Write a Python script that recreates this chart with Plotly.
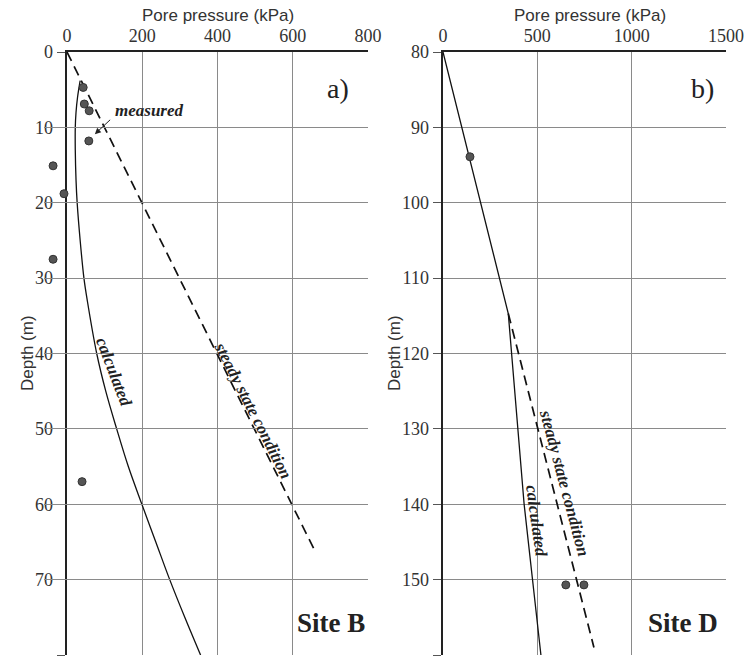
import plotly.graph_objects as go

# ---- Site B (panel a) ----
b_meas_p = [43, 46, 59, 58, -37, -8, -37, 40]
b_meas_d = [4.7, 6.9, 7.8, 11.8, 15.1, 18.8, 27.5, 57]
b_calc_p = [35, 28, 24, 22, 22, 24, 27, 35, 45, 54, 79, 103, 132, 163, 199, 236, 273, 313, 355]
b_calc_d = [3.8, 6, 8, 10, 13, 17, 20, 25, 30, 33, 40, 45, 50, 55, 60, 65, 70, 75, 80]
b_ss_p = [0, 660]
b_ss_d = [0, 66.3]
b_xticks = [0, 200, 400, 600, 800]
b_yticks = [0, 10, 20, 30, 40, 50, 60, 70, 80]

# ---- Site D (panel b) ----
d_meas_p = [143, 651, 747]
d_meas_d = [93.9, 150.7, 150.7]
d_calc_p = [0, 346, 430, 519]
d_calc_d = [80, 114.7, 140, 160]
d_ss_p = [346, 800]
d_ss_d = [114.7, 159]
d_xticks = [0, 500, 1000, 1500]
d_yticks = [80, 90, 100, 110, 120, 130, 140, 150, 160]

W, H = 745, 664
SERIF = "Liberation Serif, Times New Roman, serif"
SANS = "Liberation Sans, Arial, sans-serif"

def px(x):
    return x / W

def py(y):
    return 1 - y / H

fig = go.Figure()

line_solid = dict(color="#111", width=1.3)
line_dash = dict(color="#111", width=1.7, dash="10px,6px")
mk = dict(size=8, color="#555", line=dict(color="#333", width=1))

fig.add_trace(go.Scatter(x=b_calc_p, y=b_calc_d, mode="lines", line=dict(line_solid, shape="spline"),
                         xaxis="x", yaxis="y", showlegend=False, hoverinfo="skip"))
fig.add_trace(go.Scatter(x=b_ss_p, y=b_ss_d, mode="lines", line=line_dash,
                         xaxis="x", yaxis="y", showlegend=False, hoverinfo="skip"))
# measured points on an invisible axis with the same scale, extended to negative pressures
fig.add_trace(go.Scatter(x=b_meas_p, y=b_meas_d, mode="markers", marker=mk, cliponaxis=False,
                         xaxis="x3", yaxis="y", showlegend=False, hoverinfo="skip"))

fig.add_trace(go.Scatter(x=d_calc_p, y=d_calc_d, mode="lines", line=line_solid,
                         xaxis="x2", yaxis="y2", showlegend=False, hoverinfo="skip"))
fig.add_trace(go.Scatter(x=d_ss_p, y=d_ss_d, mode="lines", line=line_dash,
                         xaxis="x2", yaxis="y2", showlegend=False, hoverinfo="skip"))
fig.add_trace(go.Scatter(x=d_meas_p, y=d_meas_d, mode="markers", marker=mk, cliponaxis=False,
                         xaxis="x2", yaxis="y2", showlegend=False, hoverinfo="skip"))

ydom = [py(655), py(52)]

def xax(dom, rng, ticks, anchor):
    return dict(domain=dom, range=rng, side="top", anchor=anchor, tickvals=ticks,
                showgrid=True, gridcolor="#8a8a8a", gridwidth=1.2, zeroline=False,
                showline=True, linecolor="#222", linewidth=2.5, ticks="", automargin=False,
                tickfont=dict(family=SERIF, size=18, color="#333"), fixedrange=True)

def yax(rng, ticks, anchor):
    return dict(domain=ydom, range=rng, anchor=anchor, tickvals=ticks,
                showgrid=True, gridcolor="#8a8a8a", gridwidth=1.2, zeroline=False,
                showline=True, linecolor="#222", linewidth=2.5, ticks="outside", ticklen=8,
                tickcolor="#555", tickwidth=1, automargin=False,
                tickfont=dict(family=SERIF, size=18, color="#333"), fixedrange=True)

s = (368 - 67) / 800.0  # px per kPa in panel a
ext = 60  # kPa of extension to the left for the measured-point axis

fig.update_layout(
    template="none",
    width=W, height=H, margin=dict(l=0, r=0, t=0, b=0, autoexpand=False),
    paper_bgcolor="white", plot_bgcolor="rgba(0,0,0,0)",
    xaxis=xax([px(67), px(368)], [0, 800], b_xticks, "y"),
    yaxis=yax([80, 0], b_yticks, "x"),
    xaxis2=xax([px(443), px(726)], [0, 1500], d_xticks, "y2"),
    yaxis2=yax([160, 80], d_yticks, "x2"),
    xaxis3=dict(domain=[px(67 - ext * s), px(368)], range=[-ext, 800], anchor="y",
                visible=False, showgrid=False, zeroline=False, fixedrange=True),
    hovermode=False,
)

ann = []
for cx in (218, 590):
    ann.append(dict(text="Pore pressure (kPa)", xref="paper", yref="paper", x=px(cx), y=py(16),
                    xanchor="center", yanchor="middle",
                    showarrow=False, font=dict(family=SANS, size=17, color="#333")))
for cx in (28, 395):
    ann.append(dict(text="Depth (m)", xref="paper", yref="paper", x=px(cx), y=py(353),
                    xanchor="center", yanchor="middle",
                    textangle=-90, showarrow=False, font=dict(family=SANS, size=17, color="#333")))

lab = dict(family=SERIF, size=17, color="#222")
ann += [
    dict(text="a)", xref="x", yref="y", x=720, y=4.8, showarrow=False,
         font=dict(family=SERIF, size=28, color="#222")),
    dict(text="b)", xref="x2", yref="y2", x=1373, y=84.8, showarrow=False,
         font=dict(family=SERIF, size=28, color="#222")),
    dict(text="<b>Site B</b>", xref="x", yref="y", x=797, y=75.7, xanchor="right", showarrow=False,
         font=dict(family=SERIF, size=27, color="#222")),
    dict(text="<b>Site D</b>", xref="x2", yref="y2", x=1470, y=155.7, xanchor="right", showarrow=False,
         font=dict(family=SERIF, size=27, color="#222")),
    dict(text="<b><i>measured</i></b>", xref="x", yref="y", x=220, y=7.7, showarrow=False, font=lab),
    dict(text=" ", xref="x", yref="y", x=74, y=10.9, ax=120, ay=8.75, axref="x", ayref="y",
         showarrow=True, arrowhead=2, arrowsize=1.2, arrowwidth=1, arrowcolor="#222",
         font=dict(size=2)),
    dict(text="<b><i>calculated</i></b>", xref="x", yref="y", x=124, y=42.4, textangle=69,
         showarrow=False, font=lab),
    dict(text="<b><i>steady state condition</i></b>", xref="x", yref="y", x=494, y=47.6, textangle=63,
         showarrow=False, font=lab),
    dict(text="<b><i>steady state condition</i></b>", xref="x2", yref="y2", x=646, y=137.2, textangle=75,
         showarrow=False, font=lab),
    dict(text="<b><i>calculated</i></b>", xref="x2", yref="y2", x=493, y=142.2, textangle=82,
         showarrow=False, font=lab),
]
fig.update_layout(annotations=ann)

fig.write_html("out.html", config={"displayModeBar": False, "staticPlot": True},
               post_script="document.body.style.margin='0';document.body.style.padding='0';")
